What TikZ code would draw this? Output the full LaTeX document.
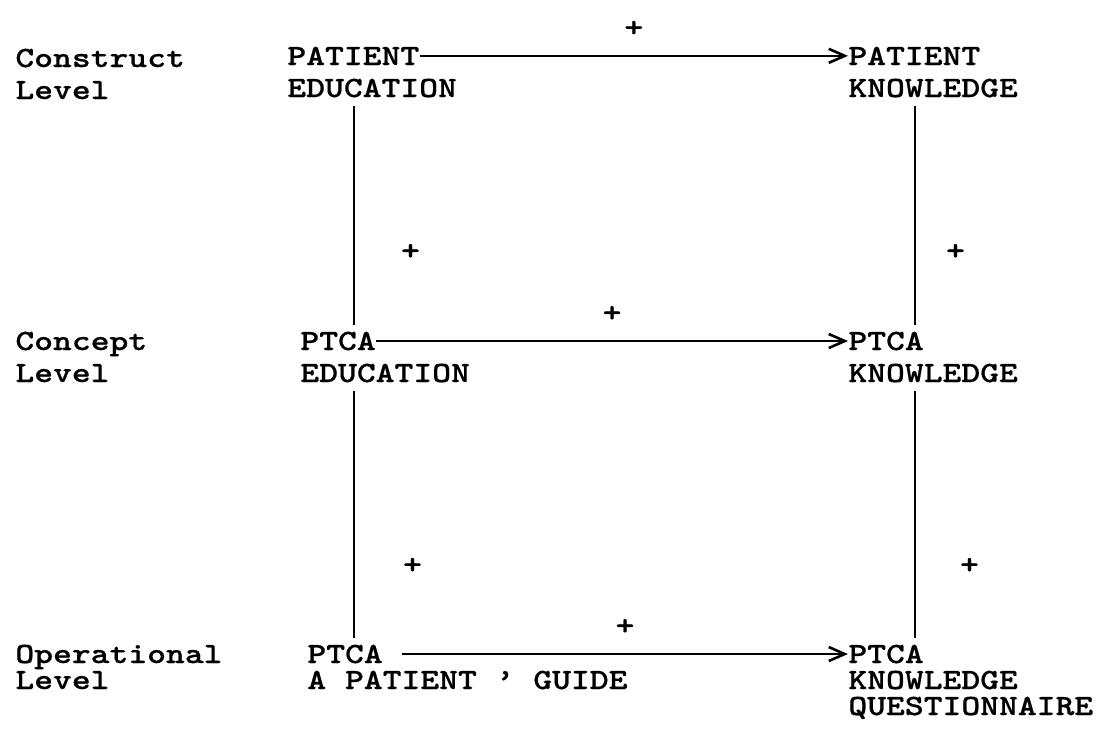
\documentclass[tikz,border=0pt]{standalone}
\usepackage{fontspec}
\newfontfamily\typew[FakeStretch=1.22, FakeBold=0.6]{lmmonolt10-bold.otf}
\usetikzlibrary{arrows.meta, positioning}
\tikzset{
  lvl/.style ={anchor=base west, inner sep=0pt, font=\typew\fontsize{14.7}{16}\selectfont},
  item/.style={anchor=base west, inner sep=0pt, font=\typew\fontsize{14.7}{16}\selectfont},
  sgn/.style ={inner sep=0pt, font=\typew\fontsize{14.7}{16}\selectfont},
  harr/.style={-{Straight Barb[length=8pt, width=7pt]}, line width=1.3pt},
  vline/.style={line width=1.1pt, shorten <=4pt, shorten >=3pt},
}
\begin{document}
\begin{tikzpicture}[x=0.5pt, y=-0.5pt]
  \useasboundingbox (0,0) rectangle (1104,736);
  % level labels
  \node[lvl] (lc1) at (15,67)  {Construct};
  \node[lvl] (lc2) at (15,99)  {Level};
  \node[lvl] (lk1) at (15,350) {Concept};
  \node[lvl] (lk2) at (15,382) {Level};
  \node[lvl] (lo1) at (15,663) {Operational};
  \node[lvl] (lo2) at (15,689) {Level};
  % left column
  \node[item] (pe1) at (287,65)  {PATIENT};
  \node[item] (pe2) at (287,97)  {EDUCATION};
  \node[item] (ce1) at (300,350) {PTCA};
  \node[item] (ce2) at (300,382) {EDUCATION};
  \node[item] (og1) at (307,663) {PTCA};
  \node[item] (og2) at (307,689) {A PATIENT ’ GUIDE};
  % right column
  \node[item] (pk1) at (848,65)  {PATIENT};
  \node[item] (pk2) at (848,97)  {KNOWLEDGE};
  \node[item] (ck1) at (848,350) {PTCA};
  \node[item] (ck2) at (848,382) {KNOWLEDGE};
  \node[item] (oq1) at (848,663) {PTCA};
  \node[item] (oq2) at (848,689) {KNOWLEDGE};
  \node[item] (oq3) at (848,715) {QUESTIONNAIRE};
  \coordinate (colL) at (354,0);
  \coordinate (colR) at (915,0);
  % arrows between columns
  \draw[harr] (pe1.east) -- node[sgn, above=9pt] (s1) {+} (pk1.west);
  \draw[harr] (ce1.east) -- node[sgn, above=9pt] (s2) {+} (ck1.west);
  \draw[harr] ([xshift=9.5pt]og1.east) -- node[sgn, above=9pt] (s3) {+} (oq1.west);
  % vertical links
  \draw[vline] (pe2.south -| colL) -- node[sgn, pos=0.66, right=23pt] (s4) {+} (ce1.north -| colL);
  \draw[vline] (ce2.south -| colL) -- node[sgn, pos=0.7, right=24pt] (s5) {+} (og1.north -| colL);
  \draw[vline] (pk2.south -| colR) -- node[sgn, pos=0.66, right=15pt] (s6) {+} (ck1.north -| colR);
  \draw[vline] (ck2.south -| colR) -- node[sgn, pos=0.7, right=22pt] (s7) {+} (oq1.north -| colR);
\end{tikzpicture}
\end{document}
